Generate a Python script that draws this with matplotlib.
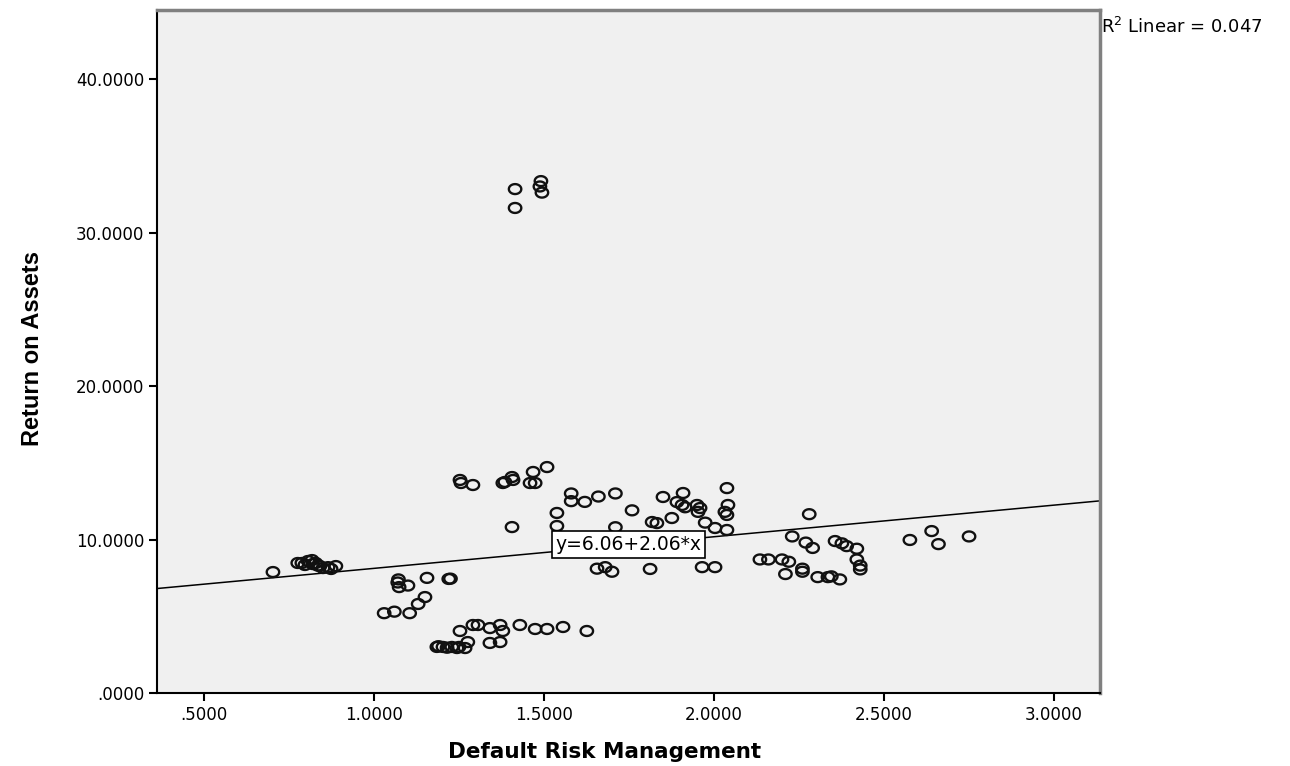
import numpy as np
import matplotlib.pyplot as plt
from matplotlib.path import Path

# Default Risk Management (x) vs Return on Assets (y)
drm = [
    0.703, 0.776, 0.788, 0.797, 0.806, 0.818, 0.829, 0.841, 0.850, 0.865, 0.874, 0.888, 0.820, 0.835,
    1.030, 1.060, 1.070, 1.072, 1.074, 1.100, 1.105, 1.130, 1.150, 1.156, 1.220, 1.225,
    1.185, 1.190, 1.203, 1.215, 1.229, 1.244, 1.250, 1.268,
    1.253, 1.291, 1.306, 1.341, 1.371, 1.379, 1.429, 1.474, 1.509, 1.556, 1.626,
    1.276, 1.341, 1.371,
    1.253, 1.256, 1.291, 1.379, 1.385, 1.406, 1.409, 1.459, 1.474, 1.468, 1.509, 1.406,
    1.415, 1.415, 1.491, 1.488, 1.494,
    1.538, 1.538, 1.580, 1.580, 1.620, 1.660, 1.710, 1.759, 1.710, 1.656, 1.680, 1.700, 1.812,
    1.818, 1.832, 1.850, 1.876, 1.891, 1.906, 1.909, 1.915, 1.950, 1.953, 1.959, 1.974,
    2.003, 2.038, 2.038, 2.041, 2.032, 2.038, 1.965, 2.003,
    2.135, 2.160, 2.200, 2.220, 2.210, 2.260, 2.260, 2.230, 2.270, 2.290, 2.280,
    2.305, 2.335, 2.345, 2.370,
    2.356, 2.376, 2.390, 2.420, 2.420, 2.430, 2.430,
    2.576, 2.640, 2.660, 2.750,
]
roa = [
    7.88, 8.47, 8.47, 8.34, 8.60, 8.66, 8.47, 8.27, 8.14, 8.20, 8.08, 8.27, 8.40, 8.30,
    5.20, 5.30, 7.20, 7.40, 6.90, 7.00, 5.20, 5.80, 6.25, 7.50, 7.43, 7.45,
    3.00, 3.05, 3.00, 2.95, 3.00, 2.93, 3.00, 2.93,
    4.04, 4.43, 4.43, 4.23, 4.43, 4.04, 4.43, 4.17, 4.17, 4.30, 4.04,
    3.32, 3.26, 3.32,
    13.88, 13.68, 13.55, 13.68, 13.75, 14.07, 13.88, 13.68, 13.68, 14.40, 14.72, 10.81,
    32.83, 31.60, 33.35, 33.00, 32.60,
    11.73, 10.88, 13.00, 12.50, 12.45, 12.80, 13.00, 11.90, 10.80, 8.10, 8.20, 7.90, 8.08,
    11.14, 11.07, 12.77, 11.40, 12.44, 12.25, 13.03, 12.10, 12.25, 11.80, 12.05, 11.10,
    10.75, 13.35, 11.60, 12.25, 11.80, 10.62, 8.20, 8.20,
    8.70, 8.70, 8.70, 8.55, 7.75, 8.10, 7.90, 10.20, 9.80, 9.45, 11.65,
    7.55, 7.55, 7.60, 7.40,
    9.90, 9.75, 9.57, 9.40, 8.70, 8.30, 8.05,
    9.97, 10.55, 9.70, 10.20,
]

intercept = 6.06
slope = 2.06
r2 = 0.047

xlim = (0.362, 3.135)
ylim = (0, 44.5)

# the spss export is a bit wider than tall, so use a flattened circle
t = np.linspace(0, 2 * np.pi, 64)
ring = Path(np.column_stack([1.25 * np.cos(t), np.sin(t)]), closed=True)

fig = plt.figure(figsize=(12.9, 7.66), dpi=100)
ax = fig.add_axes([0.1217, 0.0953, 0.7310, 0.8917])
ax.set_facecolor('#f0f0f0')

ax.scatter(drm, roa, s=80, marker=ring, facecolors='none', edgecolors='#111111',
           linewidths=1.7, zorder=3)

xs = np.array(xlim)
ax.plot(xs, intercept + slope * xs, color='black', lw=1.1, zorder=2)

xm = xs.mean()
ax.text(xm, intercept + slope * xm, 'y=6.06+2.06*x', ha='center', va='center',
        fontsize=13.5, family='DejaVu Sans', zorder=4,
        bbox=dict(boxstyle='square,pad=0.2', fc='white', ec='black', lw=1.2))

ax.set_xlim(*xlim)
ax.set_ylim(*ylim)

xt = [0.5, 1.0, 1.5, 2.0, 2.5, 3.0]
yt = [0, 10, 20, 30, 40]
ax.set_xticks(xt)
ax.set_xticklabels(['.5000', '1.0000', '1.5000', '2.0000', '2.5000', '3.0000'])
ax.set_yticks(yt)
ax.set_yticklabels(['.0000', '10.0000', '20.0000', '30.0000', '40.0000'])
ax.tick_params(direction='out', length=6, width=1.5, labelsize=12, pad=3)
for lab in ax.get_xticklabels() + ax.get_yticklabels():
    lab.set_family('DejaVu Sans')

for side in ['left', 'bottom']:
    ax.spines[side].set_color('black')
    ax.spines[side].set_linewidth(1.5)
for side in ['top', 'right']:
    ax.spines[side].set_color('#808080')
    ax.spines[side].set_linewidth(2.5)

ax.set_xlabel('Default Risk Management', fontsize=15.5, fontweight='bold',
              family='DejaVu Sans', labelpad=14)
ax.xaxis.set_label_coords(0.475, -0.072)
ax.set_ylabel('Return on Assets', fontsize=17, fontweight='bold',
              family=['Liberation Sans Narrow', 'Liberation Sans'])
ax.yaxis.set_label_coords(-0.12, 0.505)

fig.text(0.8535, 0.965, 'R$^2$ Linear = 0.047', fontsize=13, family='DejaVu Sans',
         ha='left', va='center')

fig.savefig('out.png', dpi=100)
